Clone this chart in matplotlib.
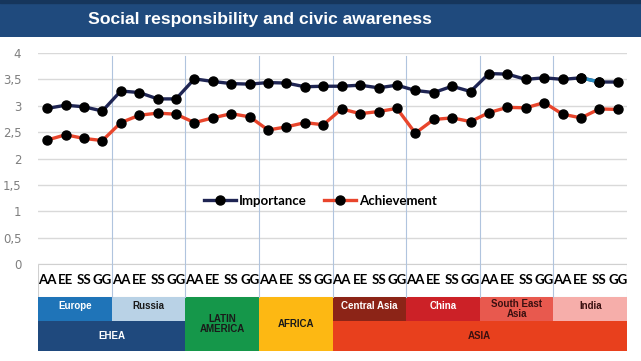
import matplotlib
matplotlib.use("Agg")
import matplotlib.pyplot as plt
from matplotlib.patches import Rectangle
from matplotlib.lines import Line2D

plt.rcParams['font.family'] = ['Liberation Sans', 'DejaVu Sans']

title = "Social responsibility and civic awareness"
sub_labels = ["AA", "EE", "SS", "GG"]
regions = ["Europe", "Russia", "LATIN\nAMERICA", "AFRICA", "Central Asia", "China", "South East\nAsia", "India"]
region_colors = ["#1f74b8", "#b9d2e6", "#15974a", "#fdb813", "#8c2417", "#cc2127", "#e8594e", "#f6aeaa"]
region_text_colors = ["white", "#1a1a1a", "#1a1a1a", "#1a1a1a", "white", "white", "#3a1010", "#3a1010"]
region_full_height = [False, False, True, True, False, False, False, False]
groups = ["EHEA", "ASIA"]
group_spans = [(0, 2), (4, 8)]  # region index ranges
group_colors = ["#1f497d", "#e8401d"]
group_text_colors = ["white", "#3a1010"]

importance = [2.95, 3.01, 2.98, 2.90, 3.28, 3.25, 3.13, 3.13,
              3.51, 3.46, 3.42, 3.41, 3.44, 3.43, 3.36, 3.37,
              3.37, 3.39, 3.34, 3.39, 3.29, 3.25, 3.37, 3.27,
              3.61, 3.60, 3.50, 3.53, 3.50, 3.53, 3.45, 3.45]
achievement = [2.35, 2.45, 2.38, 2.34, 2.68, 2.82, 2.86, 2.84,
               2.68, 2.77, 2.85, 2.79, 2.54, 2.60, 2.68, 2.64,
               2.94, 2.85, 2.89, 2.95, 2.48, 2.74, 2.77, 2.70,
               2.87, 2.97, 2.96, 3.06, 2.84, 2.77, 2.94, 2.93]
yticks = [0, 0.5, 1, 1.5, 2, 2.5, 3, 3.5, 4]
ytick_labels = ["0", "0,5", "1", "1,5", "2", "2,5", "3", "3,5", "4"]

W, H = 641, 361
fig = plt.figure(figsize=(W / 100, H / 100), dpi=100)
fig.patch.set_facecolor("white")

# Title band
band = fig.add_axes([0, (H - 37) / H, 1, 37 / H])
band.set_axis_off()
band.add_patch(Rectangle((0, 0), 1, 1, color="#1f4a7d", transform=band.transAxes))
band.add_patch(Rectangle((0, 0.92), 1, 0.08, color="#16365c", transform=band.transAxes))
band.text(0.406, 0.47, title, color="white", fontsize=12.6, fontweight="bold",
          ha="center", va="center", transform=band.transAxes)

n = len(importance)
xs = list(range(n))
left, right = 38, 627
ax = fig.add_axes([left / W, (H - 264) / H, (right - left) / W, (264 - 53) / H])
ax.set_xlim(-0.5, n - 0.5)
ax.set_ylim(0, 4)
ax.set_yticks(yticks)
ax.set_yticklabels(ytick_labels, color="#7f7f7f", fontsize=8.5, family="DejaVu Sans")
ax.tick_params(axis="y", length=0, pad=12)
ax.set_xticks([])
for s in ax.spines.values():
    s.set_visible(False)
ax.grid(axis="y", color="#d9d9d9", lw=1)
ax.set_axisbelow(True)
for k in range(1, n // 4):
    ax.axvline(4 * k - 0.5, ymin=0, ymax=0.985, color="#b0c4de", lw=0.8, zorder=1)

ax.plot(xs, importance, color="#1f2553", lw=2.4, marker="o", ms=6.5,
        mfc="black", mec="black", zorder=3)
ax.plot(xs[29:31], importance[29:31], color="#2a8fc4", lw=2.4, zorder=3.5)
ax.plot(xs[29:31], importance[29:31], ls="none", marker="o", ms=6.5,
        mfc="black", mec="black", zorder=4)
ax.plot(xs, achievement, color="#e8452c", lw=2.4, marker="o", ms=6.5,
        mfc="black", mec="black", zorder=3)

handles = [Line2D([], [], color="#1f2553", lw=2.4, marker="o", ms=6.5, mfc="black", mec="black"),
           Line2D([], [], color="#e8452c", lw=2.4, marker="o", ms=6.5, mfc="black", mec="black")]
leg = ax.legend(handles, ["Importance", "Achievement"], loc="center", bbox_to_anchor=(0.48, 0.30),
                ncol=2, frameon=False, handlelength=2.4, columnspacing=1.3,
                handletextpad=0.25, prop={"family": "Lato", "weight": "bold", "size": 9.5})

# Bottom category table
bx = fig.add_axes([left / W, (H - 351) / H, (right - left) / W, (351 - 264) / H])
bx.set_xlim(-0.5, n - 0.5)
bx.set_ylim(87, 0)
bx.set_axis_off()
# label row border
bx.add_patch(Rectangle((-0.5, 0), n, 33, facecolor="white", edgecolor="#d0d0d0", lw=0.8))
for k in range(1, n // 4):
    bx.plot([4 * k - 0.5, 4 * k - 0.5], [0, 33], color="#b0c4de", lw=0.8)
for i in xs:
    bx.text(i, 16, sub_labels[i % 4], ha="center", va="center", fontsize=9.5,
            fontweight="bold", family="Lato", color="black")
for r, name in enumerate(regions):
    x0 = 4 * r - 0.5
    h = 54 if region_full_height[r] else 24
    bx.add_patch(Rectangle((x0, 33), 4, h, facecolor=region_colors[r], edgecolor="none"))
    ty = 33 + h / 2 if region_full_height[r] else 33 + 9
    if "\n" in name and not region_full_height[r]:
        ty = 33 + 12
    bx.text(x0 + 2, ty, name, ha="center", va="center", fontsize=7, fontweight="bold",
            color=region_text_colors[r], linespacing=1.0)
for g, name in enumerate(groups):
    a, b = group_spans[g]
    x0 = 4 * a - 0.5
    bx.add_patch(Rectangle((x0, 57), 4 * (b - a), 30, facecolor=group_colors[g], edgecolor="none"))
    bx.text(x0 + 2 * (b - a), 72, name, ha="center", va="center", fontsize=7,
            fontweight="bold", color=group_text_colors[g])

fig.savefig("out.png", dpi=100)
